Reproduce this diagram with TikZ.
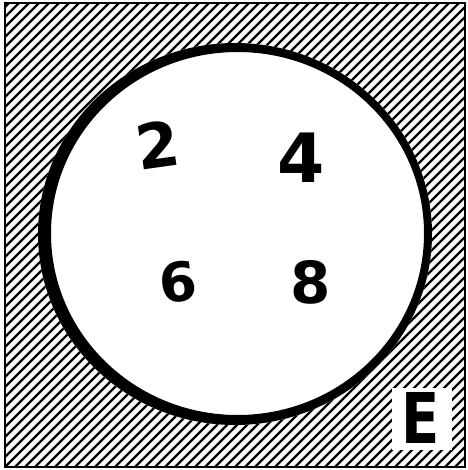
\documentclass[tikz,border=0pt]{standalone}
\usepackage{fontspec}
\newfontfamily\digfont{DejaVu Sans}
\begin{document}
\begin{tikzpicture}[x=1pt,y=-1pt,
  hatch/.style={line width=2.3pt},
  digit/.style={inner sep=0pt,font=\digfont\bfseries\fontsize{62}{62}\selectfont},
  elabel/.style={inner sep=0pt,font=\digfont\bfseries\fontsize{70}{70}\selectfont,xscale=0.8}]
\useasboundingbox (0,0) rectangle (467,470);
\fill[white] (0,0) rectangle (467,470);
% hatching
\begin{scope}
  \clip (5,3) rectangle (465,467);
  \foreach \c in {2,12,...,952} \draw[hatch] (\c,0) -- (0,\c);
\end{scope}
% circle interior
\fill[white] (235,234) ellipse [x radius=197, y radius=191];
% thick sketchy circle outline
\fill[black,even odd rule] (235,234) ellipse [x radius=197, y radius=191]
  (237.5,233.5) ellipse [x radius=186.5, y radius=181.5];
% frame
\draw[line width=2.2pt] (5,3) rectangle (465,467);
% E box
\fill[white] (392,388) rectangle (452,450);
\node[elabel] (E) at (421,418) {E};
% digits
\node[digit,rotate=8] (n2) at (158,145) {2};
\node[digit,font=\digfont\bfseries\fontsize{68}{68}\selectfont] (n4) at (301,158) {4};
\node[digit,font=\digfont\bfseries\fontsize{54}{54}\selectfont,rotate=6] (n6) at (178,282) {6};
\node[digit,font=\digfont\bfseries\fontsize{58}{58}\selectfont] (n8) at (311,282) {8};
\end{tikzpicture}
\end{document}
